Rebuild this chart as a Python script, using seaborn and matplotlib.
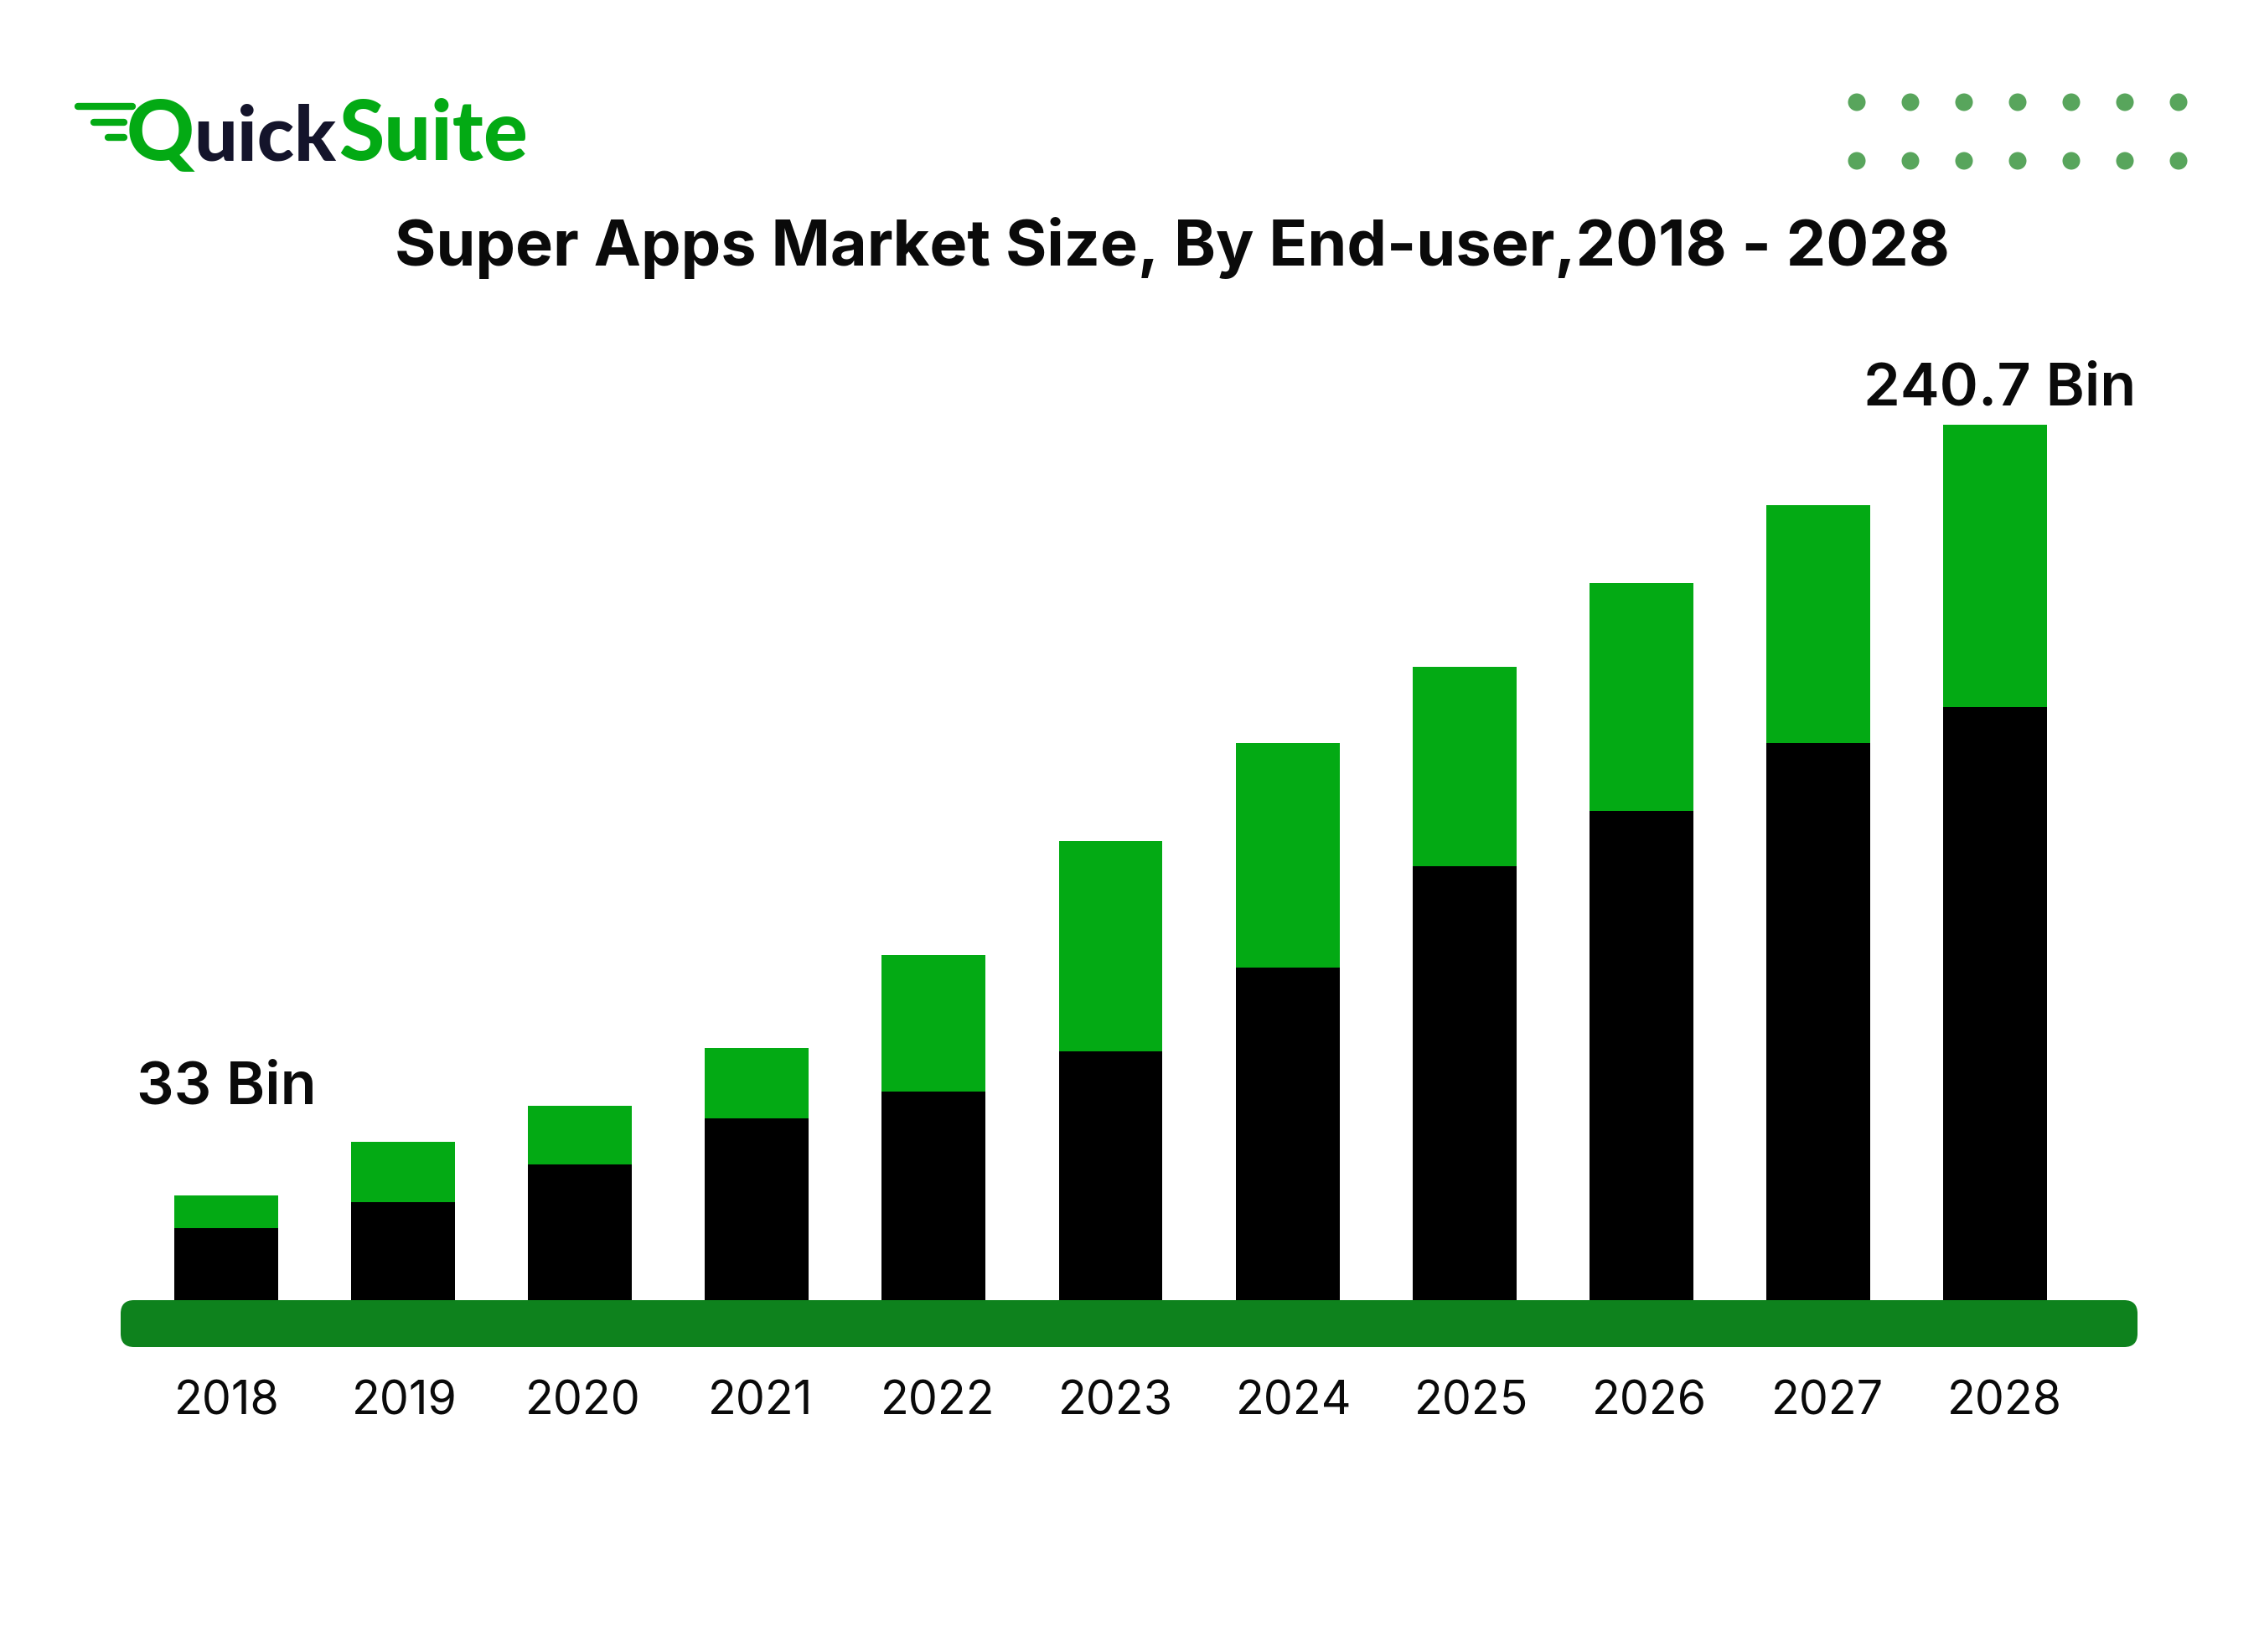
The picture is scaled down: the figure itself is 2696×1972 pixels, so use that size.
import pandas as pd
import seaborn as sns
import matplotlib.pyplot as plt
from matplotlib.patches import Circle, FancyBboxPatch

# ----------------------------
# Data
# ----------------------------
years = ["2018", "2019", "2020", "2021", "2022", "2023", "2024", "2025", "2026", "2027", "2028"]
lower_values = [19.8, 26.9, 37.2, 49.9, 57.4, 68.5, 91.5, 119.2, 134.6, 153.2, 163.1]
total_values = [28.9, 43.5, 53.4, 69.3, 95.0, 126.3, 153.2, 174.2, 197.2, 218.5, 240.7]
first_label = "33 Bin"
last_label = "240.7 Bin"
title_text = "Super Apps Market Size, By End-user,2018 - 2028"

W, H = 2696, 1972
DPI = 200
GREEN = "#03AA14"
RIBBON = "#0E821D"
DOTS = "#58A55C"
DARK = "#14142B"
INK = "#0a0a0a"

sns.set_theme(style="white")
plt.rcParams["font.family"] = ["Inter", "DejaVu Sans"]

fig = plt.figure(figsize=(W / DPI, H / DPI), dpi=DPI, facecolor="white")

# axes placed in pixels, left/top/right/bottom
left, right, top, bottom = 144, 2551, 480, 1552
ax = fig.add_axes([left / W, 1 - bottom / H, (right - left) / W, (bottom - top) / H])

df = pd.DataFrame({"year": years, "lower": lower_values, "total": total_values})
sns.barplot(data=df, x="year", y="total", color=GREEN, saturation=1, width=0.587, linewidth=0, ax=ax)
sns.barplot(data=df, x="year", y="lower", color="black", saturation=1, width=0.587, linewidth=0, ax=ax)

pitch = 211.1
ax.set_xlim((left - 270) / pitch, (right - 270) / pitch)
ax.set_ylim(0, (bottom - top) / 4.342)
ax.set_xlabel("")
ax.set_ylabel("")
ax.set_yticks([])
# the year labels run a touch wider than the bars in the original
ax.set_xticks([i * 1.005 + 0.005 for i in range(len(years))], labels=years)
ax.tick_params(axis="x", length=0, pad=34.5, labelsize=20, labelcolor=INK)
sns.despine(ax=ax, left=True, bottom=True)
ax.patch.set_alpha(0)

ax.annotate(first_label, (0, total_values[0]), xytext=(0, 46), textcoords="offset points",
            ha="center", va="center", fontsize=25.3, fontweight="semibold", color=INK)
ax.annotate(last_label, (10, total_values[-1]), xytext=(2, 15), textcoords="offset points",
            ha="center", va="center", fontsize=25.3, fontweight="semibold", color=INK)

# ----------------------------
# Decoration, in pixel coords
# ----------------------------
deco = fig.add_axes([0, 0, 1, 1], zorder=3)
deco.set_xlim(0, W)
deco.set_ylim(H, 0)
deco.axis("off")
deco.patch.set_alpha(0)

deco.add_patch(FancyBboxPatch((left + 16, bottom + 16), right - left - 32, 56 - 32,
                              boxstyle="round,pad=16,rounding_size=16", fc=RIBBON, ec="none"))

for row_y in [122, 192]:
    for i in range(7):
        deco.add_patch(Circle((2216 + i * 64, row_y), 10.5, fc=DOTS, ec="none"))

deco.text(1399, 296, title_text, ha="center", va="center", fontsize=27.2, fontweight="bold", color=INK)

# logo
for x0, x1, y in [(93, 158, 127), (112, 148, 146), (129, 148, 164)]:
    deco.plot([x0, x1], [y, y], color=GREEN, lw=3, solid_capstyle="round")
logo_font = "Lato"
deco.text(151, 191, "Q", ha="left", va="baseline", fontsize=36, fontweight="black", family=logo_font, color=GREEN)
deco.text(231, 191, "uick", ha="left", va="baseline", fontsize=33, fontweight="black", family=logo_font, color=DARK)
deco.text(404, 191, "Suite", ha="left", va="baseline", fontsize=35.5, fontweight="black", family=logo_font, color=GREEN)

fig.savefig("out.png", dpi=DPI, facecolor="white")
